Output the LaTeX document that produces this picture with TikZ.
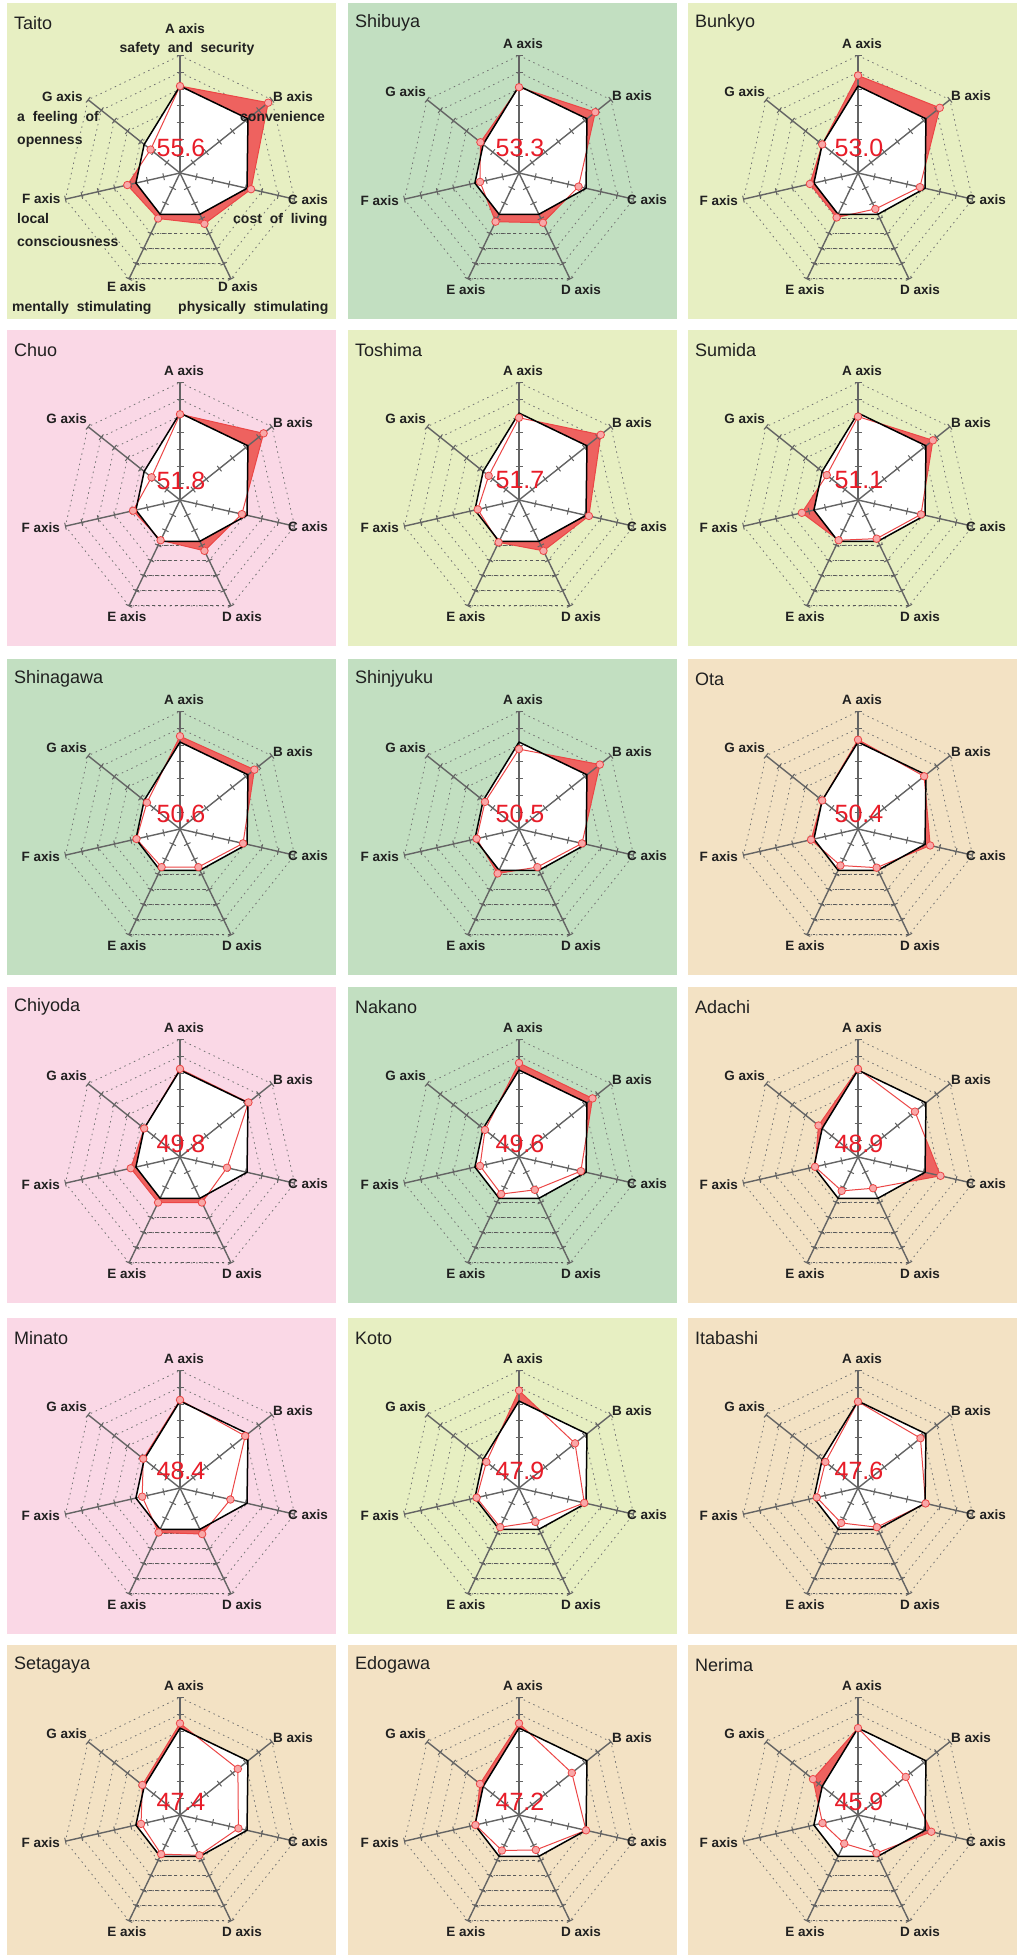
\documentclass[tikz,border=0pt]{standalone}
\usepackage{fontspec}
\setmainfont{Liberation Sans}
\newfontfamily\descfont[WordSpace=2]{Liberation Sans}
\usetikzlibrary{calc}

\definecolor{yg}{RGB}{231,239,194}
\definecolor{gr}{RGB}{194,223,193}
\definecolor{pk}{RGB}{250,216,230}
\definecolor{tn}{RGB}{243,226,196}
\definecolor{redfill}{RGB}{238,98,95}
\definecolor{redline}{RGB}{236,70,70}
\definecolor{reddot}{RGB}{248,168,168}
\definecolor{scorered}{RGB}{232,28,40}
\definecolor{axisgray}{RGB}{100,100,100}
\definecolor{labelink}{RGB}{32,32,32}

\newcommand{\chartR}{117.5}
\newcommand{\avgvals}{0.74,0.74,0.585,0.39,0.39,0.385,0.39}

\tikzset{
  wardname/.style={anchor=west, font=\fontsize{18}{20}\selectfont, text=labelink, inner sep=0},
  axlabel/.style={font=\bfseries\fontsize{13.5}{15}\selectfont, text=labelink, inner sep=0},
  axdesc/.style={font=\descfont\bfseries\fontsize{14}{16}\selectfont, text=labelink, inner sep=0, anchor=base west},
  ring/.style={draw=black!55, line width=0.8pt, dash pattern=on 1.5pt off 3.8pt},
  ringbase/.style={draw=black!65, line width=1.2pt, dash pattern=on 2.6pt off 3.2pt},
  spoke/.style={draw=axisgray, line width=1.4pt},
  tick/.style={draw=axisgray, line width=1pt},
  avgline/.style={draw=black, line width=1.5pt, line join=round},
  wardline/.style={draw=redline, line width=1pt, line join=round},
  warddot/.style={circle, fill=reddot, draw=redline, line width=0.8pt, inner sep=0, minimum size=7.5pt},
  score/.style={font=\fontsize{25}{27}\selectfont, text=scorered, inner sep=0},
}

% standard axis labels
\newcommand{\stdlabels}{%
  \node[axlabel, anchor=base] (\wname-la) at (4,125) {A axis};
  \node[axlabel, anchor=base west] (\wname-lb) at (93,73) {B axis};
  \node[axlabel, anchor=base west] (\wname-lc) at (108,-31.5) {C axis};
  \node[axlabel, anchor=base] (\wname-ld) at (62,-121) {D axis};
  \node[axlabel, anchor=base] (\wname-le) at (-53,-121) {E axis};
  \node[axlabel, anchor=base east] (\wname-lf) at (-120,-32) {F axis};
  \node[axlabel, anchor=base east] (\wname-lg) at (-93,77) {G axis};
}

% labels with the meaning of each axis (first panel)
\newcommand{\taitolabels}{%
  \node[axlabel, anchor=base] (\wname-la) at (5,140) {A axis};
  \node[axdesc, anchor=base] (\wname-da) at (7,121) {safety and security};
  \node[axlabel, anchor=base west] (\wname-lb) at (93,72) {B axis};
  \node[axdesc] (\wname-db) at (60,52) {convenience};
  \node[axlabel, anchor=base west] (\wname-lc) at (108,-31) {C axis};
  \node[axdesc] (\wname-dc) at (53,-50) {cost of living};
  \node[axlabel, anchor=base west] (\wname-ld) at (38,-118) {D axis};
  \node[axdesc] (\wname-dd) at (-2,-138) {physically stimulating};
  \node[axlabel, anchor=base west] (\wname-le) at (-73,-118) {E axis};
  \node[axdesc] (\wname-de) at (-168,-138) {mentally stimulating};
  \node[axlabel, anchor=base west] (\wname-lf) at (-158,-30) {F axis};
  \node[axdesc] (\wname-df) at (-163,-50) {local};
  \node[axdesc] (\wname-dg) at (-163,-73) {consciousness};
  \node[axlabel, anchor=base west] (\wname-lg) at (-138,72) {G axis};
  \node[axdesc] (\wname-dh) at (-163,52) {a feeling of};
  \node[axdesc] (\wname-di) at (-163,29) {openness};
}

% #1 left, #2 top, #3 centre x, #4 ward, #5 colour, #6 score, #7 score shift, #8 values, #9 labels
\newcommand{\ward}[9]{%
\def\wname{#4}%
\begin{scope}[shift={(#1,-#2)}]
  \fill[#5] (0,0) rectangle (329,-316);
  \node[wardname] (#4-title) at (7,-20) {#4};
  \begin{scope}[shift={(#3,-170)}]
    \foreach \k in {1,...,7}
      \draw[ring] (90:{\k*\chartR/7}) \foreach \i in {1,...,6} { -- ({90-\i*360/7}:{\k*\chartR/7}) } -- cycle;
    \foreach \k in {1,...,7}
      \draw[ringbase] ({90-4*360/7}:{\k*\chartR/7}) -- ({90-3*360/7}:{\k*\chartR/7});
    \foreach \v [count=\i from 0] in {#8}
      \coordinate (#4-r\i) at ({90-\i*360/7}:{\v*\chartR});
    \foreach \v [count=\i from 0] in \avgvals
      \coordinate (#4-b\i) at ({90-\i*360/7}:{\v*\chartR});
    \fill[redfill] (#4-r0) -- (#4-r1) -- (#4-r2) -- (#4-r3) -- (#4-r4) -- (#4-r5) -- (#4-r6) -- cycle;
    \fill[white] (#4-b0) -- (#4-b1) -- (#4-b2) -- (#4-b3) -- (#4-b4) -- (#4-b5) -- (#4-b6) -- cycle;
    \foreach \i in {0,...,6} {
      \draw[spoke, rotate={-\i*360/7}] (0,0) -- (0,\chartR);
      \foreach \k in {1,...,7}
        \draw[tick, rotate={-\i*360/7}] (-3.5,{\k*\chartR/7}) -- (3.5,{\k*\chartR/7});
    }
    \draw[wardline] (#4-r0) -- (#4-r1) -- (#4-r2) -- (#4-r3) -- (#4-r4) -- (#4-r5) -- (#4-r6) -- cycle;
    \draw[avgline] (#4-b0) -- (#4-b1) -- (#4-b2) -- (#4-b3) -- (#4-b4) -- (#4-b5) -- (#4-b6) -- cycle;
    \foreach \i in {0,...,6}
      \node[warddot] (#4-d\i) at (#4-r\i) {};
    \node[score] (#4-score) at (1,#7) {#6};
    #9
  \end{scope}
\end{scope}}

\begin{document}
\begin{tikzpicture}[x=1pt,y=1pt]
\useasboundingbox (0,0) rectangle (1026,-1955);
\fill[white] (0,0) rectangle (1026,-1955);

\ward{7}{3}{173}{Taito}{yg}{55.6}{25}{0.74,0.96,0.62,0.48,0.43,0.46,0.32}{\taitolabels}
\ward{348}{3}{171}{Shibuya}{gr}{53.3}{25}{0.73,0.83,0.52,0.47,0.46,0.34,0.42}{\stdlabels}
\ward{688}{3}{170}{Bunkyo}{yg}{53.0}{25}{0.83,0.89,0.54,0.34,0.42,0.42,0.39}{\stdlabels}

\ward{7}{330}{173}{Chuo}{pk}{51.8}{19.5}{0.73,0.91,0.54,0.48,0.38,0.41,0.31}{\stdlabels}
\ward{348}{330}{171}{Toshima}{yg}{51.7}{19.5}{0.70,0.89,0.61,0.48,0.40,0.36,0.33}{\stdlabels}
\ward{688}{330}{170}{Sumida}{yg}{51.1}{19.5}{0.71,0.815,0.55,0.365,0.38,0.49,0.34}{\stdlabels}

\ward{7}{659}{173}{Shinagawa}{gr}{50.6}{15}{0.79,0.81,0.55,0.36,0.36,0.38,0.36}{\stdlabels}
\ward{348}{659}{171}{Shinjyuku}{gr}{50.5}{15}{0.68,0.88,0.55,0.36,0.42,0.37,0.37}{\stdlabels}
\ward{688}{659}{170}{Ota}{tn}{50.4}{15}{0.76,0.72,0.63,0.365,0.345,0.41,0.39}{\stdlabels}

\ward{7}{987}{173}{Chiyoda}{pk}{49.8}{13.5}{0.75,0.745,0.41,0.43,0.43,0.43,0.39}{\stdlabels}
\ward{348}{987}{171}{Nakano}{gr}{49.6}{13.5}{0.80,0.80,0.54,0.31,0.35,0.34,0.37}{\stdlabels}
\ward{688}{987}{170}{Adachi}{tn}{48.9}{13.5}{0.75,0.62,0.72,0.295,0.32,0.375,0.43}{\stdlabels}

\ward{7}{1318}{173}{Minato}{pk}{48.4}{17.5}{0.75,0.71,0.44,0.435,0.42,0.33,0.40}{\stdlabels}
\ward{348}{1318}{171}{Koto}{yg}{47.9}{17.5}{0.83,0.61,0.57,0.32,0.37,0.37,0.355}{\stdlabels}
\ward{688}{1318}{170}{Itabashi}{tn}{47.6}{17.5}{0.735,0.68,0.59,0.37,0.33,0.36,0.355}{\stdlabels}

\ward{7}{1645}{173}{Setagaya}{tn}{47.4}{13}{0.78,0.63,0.51,0.38,0.37,0.34,0.41}{\stdlabels}
\ward{348}{1645}{171}{Edogawa}{tn}{47.2}{13}{0.78,0.575,0.585,0.33,0.335,0.38,0.425}{\stdlabels}
\ward{688}{1645}{170}{Nerima}{tn}{45.9}{13}{0.74,0.52,0.64,0.36,0.27,0.31,0.49}{\stdlabels}
\end{tikzpicture}
\end{document}
